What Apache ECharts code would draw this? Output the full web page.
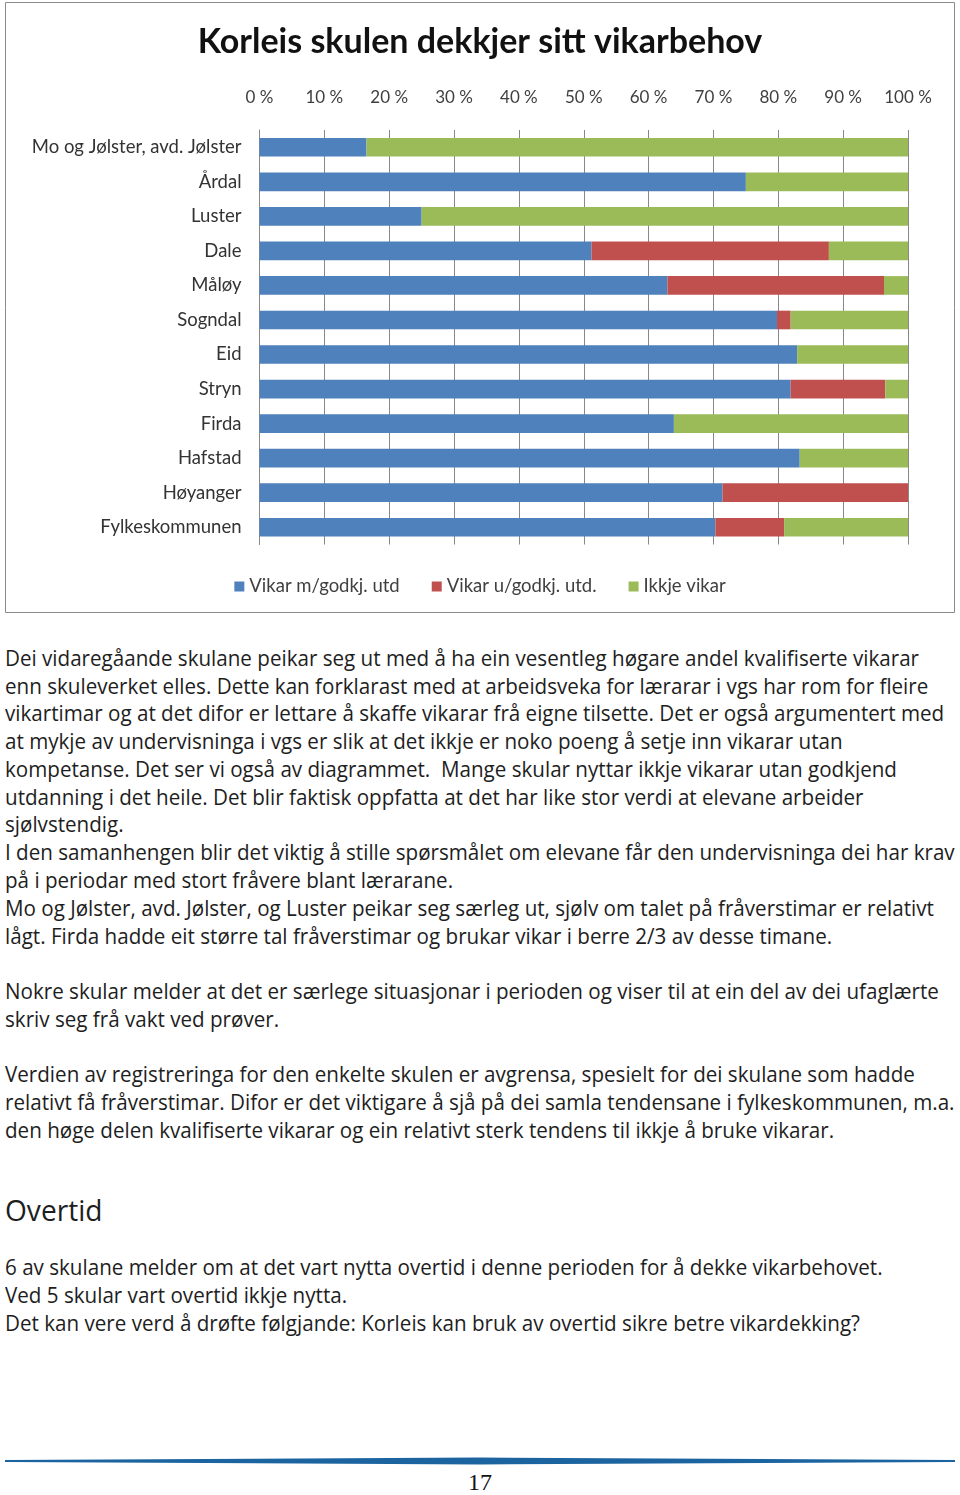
<!DOCTYPE html>
<html>
<head>
<meta charset="utf-8">
<script src="https://cdn.jsdelivr.net/npm/echarts@6/dist/echarts.min.js"></script>
<style>
  html, body { margin: 0; padding: 0; background: #fff; }
  body { width: 960px; height: 1495px; position: relative; overflow: hidden; }
  #chart { position: absolute; left: 0; top: 0; width: 960px; height: 620px; }
  .ln { position: absolute; left: 5px; height: 28px; line-height: 28px; font-family: "Open Sans", sans-serif;
        font-size: 22px; color: #1e1e1e; white-space: pre; transform-origin: 0 50%; }
  .hd { position: absolute; left: 5px; font-family: "Open Sans", sans-serif; font-size: 30px; color: #1e1e1e;
        line-height: 40px; height: 40px; white-space: pre; transform-origin: 0 50%; }
  #pg { position: absolute; left: 0; width: 960px; text-align: center; top: 1468px; font-family: "Liberation Serif", "DejaVu Serif", serif; font-size: 24px; line-height: 28px; color: #111; }
  #rule { position: absolute; left: 0; top: 1450px; }
</style>
</head>
<body>
<div id="chart"></div>
<div id="text"></div>
<svg id="rule" width="960" height="25"><polygon points="5,10 480,7.5 955,10 955,12 480,14.5 5,12" fill="#1c64a0"/></svg>
<div id="pg">17</div>
<script>
// ---- chart data ----
const chartTitle = 'Korleis skulen dekkjer sitt vikarbehov';
const categories = ['Mo og Jølster, avd. Jølster', 'Årdal', 'Luster', 'Dale', 'Måløy', 'Sogndal', 'Eid', 'Stryn', 'Firda', 'Hafstad', 'Høyanger', 'Fylkeskommunen'];
const seriesNames = ['Vikar m/godkj. utd', 'Vikar u/godkj. utd.', 'Ikkje vikar'];
const vikarMedGodkj = [16.5, 75.0, 25.0, 51.2, 62.9, 79.8, 82.9, 81.9, 63.9, 83.3, 71.4, 70.3];
const vikarUtanGodkj = [0, 0, 0, 36.6, 33.4, 2.1, 0, 14.6, 0, 0, 28.6, 10.6];
const ikkjeVikar = [83.5, 25.0, 75.0, 12.2, 3.7, 18.1, 17.1, 3.5, 36.1, 16.7, 0, 19.1];
const xTicks = [0, 10, 20, 30, 40, 50, 60, 70, 80, 90, 100];

// ---- page text ----
const bodyLines = [
  ['Dei vidaregåande skulane peikar seg ut med å ha ein vesentleg høgare andel kvalifiserte vikarar', 657],
  ['enn skuleverket elles. Dette kan forklarast med at arbeidsveka for lærarar i vgs har rom for fleire', 685],
  ['vikartimar og at det difor er lettare å skaffe vikarar frå eigne tilsette. Det er også argumentert med', 712],
  ['at mykje av undervisninga i vgs er slik at det ikkje er noko poeng å setje inn vikarar utan', 740],
  ['kompetanse. Det ser vi også av diagrammet.  Mange skular nyttar ikkje vikarar utan godkjend', 768],
  ['utdanning i det heile. Det blir faktisk oppfatta at det har like stor verdi at elevane arbeider', 796],
  ['sjølvstendig.', 823],
  ['I den samanhengen blir det viktig å stille spørsmålet om elevane får den undervisninga dei har krav', 851],
  ['på i periodar med stort fråvere blant lærarane.', 879],
  ['Mo og Jølster, avd. Jølster, og Luster peikar seg særleg ut, sjølv om talet på fråverstimar er relativt', 907],
  ['lågt. Firda hadde eit større tal fråverstimar og brukar vikar i berre 2/3 av desse timane.', 935],
  ['Nokre skular melder at det er særlege situasjonar i perioden og viser til at ein del av dei ufaglærte', 990],
  ['skriv seg frå vakt ved prøver.', 1018],
  ['Verdien av registreringa for den enkelte skulen er avgrensa, spesielt for dei skulane som hadde', 1073],
  ['relativt få fråverstimar. Difor er det viktigare å sjå på dei samla tendensane i fylkeskommunen, m.a.', 1101],
  ['den høge delen kvalifiserte vikarar og ein relativt sterk tendens til ikkje å bruke vikarar.', 1129],
  ['6 av skulane melder om at det vart nytta overtid i denne perioden for å dekke vikarbehovet.', 1266],
  ['Ved 5 skular vart overtid ikkje nytta.', 1294],
  ['Det kan vere verd å drøfte følgjande: Korleis kan bruk av overtid sikre betre vikardekking?', 1322]
];
const heading = ['Overtid', 1210];

// fit body font horizontally to the first line width
const cv = document.createElement('canvas').getContext('2d');
cv.font = '22px "Open Sans"';
const sx = 914 / cv.measureText(bodyLines[0][0]).width;
const host = document.getElementById('text');
bodyLines.forEach(([t, y]) => {
  const d = document.createElement('div');
  d.className = 'ln'; d.textContent = t;
  d.style.top = (y - 14) + 'px';
  d.style.transform = 'scaleX(' + sx + ')';
  host.appendChild(d);
});
const h = document.createElement('div');
h.className = 'hd'; h.textContent = heading[0];
h.style.top = (heading[1] - 20) + 'px';
h.style.transform = 'scaleX(' + sx + ')';
host.appendChild(h);

// ---- chart ----
const colors = ['#4f81bd', '#c0504d', '#9bbb59'];
const font = 'Lato, "Open Sans", sans-serif';
const chart = echarts.init(document.getElementById('chart'), null, { renderer: 'canvas' });
const mk = (name, data, i) => ({
  name, type: 'bar', stack: 'total', data, barWidth: '54%',
  itemStyle: { color: colors[i] }
});
chart.setOption({
  animation: false,
  color: colors,
  title: {
    text: chartTitle, left: 'center', top: 20,
    textStyle: { fontFamily: font, fontWeight: 'bold', fontSize: 34, color: '#111' }
  },
  legend: {
    data: seriesNames, top: 572, left: 'center', icon: 'rect',
    itemWidth: 10, itemHeight: 10, itemGap: 32,
    textStyle: { fontFamily: font, fontSize: 18.5, color: '#404040' }
  },
  grid: { left: 259.5, right: 52, top: 130, height: 414.5, containLabel: false },
  xAxis: {
    type: 'value', position: 'top', min: 0, max: 100, interval: 10,
    axisLine: { show: false }, axisTick: { show: false },
    splitLine: { show: true, lineStyle: { color: '#888', width: 1 } },
    axisLabel: {
      margin: 24, fontFamily: font, fontSize: 17, color: '#404040',
      formatter: v => xTicks.includes(v) ? v + ' %' : ''
    }
  },
  yAxis: {
    type: 'category', data: categories, inverse: true,
    axisLine: { show: true, lineStyle: { color: '#888', width: 1 } },
    axisTick: { show: false },
    axisLabel: { margin: 18, fontFamily: font, fontSize: 18.5, color: '#333' }
  },
  graphic: [{
    type: 'rect', shape: { x: 5.5, y: 2.5, width: 949, height: 610 },
    style: { fill: 'none', stroke: '#8a8a8a', lineWidth: 1 }, silent: true, z: -1
  }],
  series: [
    mk(seriesNames[0], vikarMedGodkj, 0),
    mk(seriesNames[1], vikarUtanGodkj, 1),
    mk(seriesNames[2], ikkjeVikar, 2)
  ]
});
</script>
</body>
</html>
